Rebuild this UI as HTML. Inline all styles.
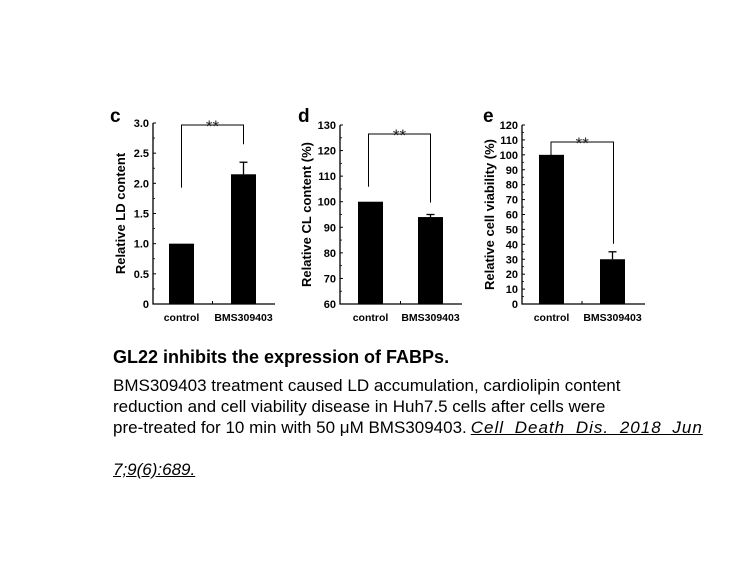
<!DOCTYPE html>
<html><head><meta charset="utf-8"><style>
body{margin:0;background:#fff;width:756px;height:567px;overflow:hidden;font-family:"Liberation Sans",Arial,sans-serif}
svg{position:absolute;left:0;top:0}
.cap{position:absolute;left:113px;font-size:17px;color:#000;white-space:nowrap;line-height:21px}
.cit{letter-spacing:1px;word-spacing:5px;margin-left:4px}
</style></head><body>
<svg id="fig" width="756" height="340" font-family="Liberation Sans, Arial, sans-serif"></svg>
<div class="cap" style="top:347px;font-weight:bold;font-size:18px">GL22 inhibits the expression of FABPs.</div>
<div class="cap" style="top:375px">BMS309403 treatment caused LD accumulation, cardiolipin content<br>reduction and cell viability disease in Huh7.5 cells after cells were<br>pre-treated for 10 min with 50 μM BMS309403.<u class="cit"><i>Cell Death Dis. 2018 Jun<br></i></u><br><u><i>7;9(6):689.</i></u></div>
<script>
const categories = ["control","BMS309403"];
const cValues = [1.0, 2.15];
const cErrors = [0, 0.2];
const cTicks = ["0","0.5","1.0","1.5","2.0","2.5","3.0"];
const dValues = [100, 94];
const dErrors = [0, 1];
const dTicks = ["60","70","80","90","100","110","120","130"];
const eValues = [100, 30];
const eErrors = [0, 5];
const eTicks = ["0","10","20","30","40","50","60","70","80","90","100","110","120"];

const NS="http://www.w3.org/2000/svg";
const svg=document.getElementById('fig');
function mk(tag,attrs,parent){const e=document.createElementNS(NS,tag);for(const k in attrs)e.setAttribute(k,attrs[k]);(parent||svg).appendChild(e);return e;}

function panel(o){
  const g=mk('g',{});
  
  
  const y=v=>o.y0-(v-o.min)/(o.max-o.min)*(o.y0-o.yTop);
  const ax=mk('path',{d:`M${o.ax},${o.yTop} V${o.y0} H${o.axEnd}`,stroke:'#000','stroke-width':1.3,fill:'none'},g);
  
  
  const n=o.ticks.length;
  for(let i=0;i<n;i++){
    const v=o.min+(o.max-o.min)*i/(n-1);
    mk('line',{x1:o.ax,x2:o.ax+3,y1:y(v),y2:y(v),stroke:'#000','stroke-width':1},g);
    if(i<n-1){const vm=v+(o.max-o.min)/(n-1)/2;mk('line',{x1:o.ax,x2:o.ax+2,y1:y(vm),y2:y(vm),stroke:'#000','stroke-width':0.8},g);}
    const t=mk('text',{x:o.ax-4,y:y(v)+4,'text-anchor':'end','font-size':11,'font-weight':'bold'},g);
    t.textContent=o.ticks[i];
    
    
  }
  mk('line',{x1:(o.bx[0]+o.bx[1]+o.bw)/2,x2:(o.bx[0]+o.bx[1]+o.bw)/2,y1:o.y0,y2:o.y0-3,stroke:'#000'},g);
  const tops=[];
  o.values.forEach((v,i)=>{
    const r=mk('rect',{x:o.bx[i],y:y(v),width:o.bw,height:o.y0-y(v),fill:'#000'},g);
    
    
    const cx=o.bx[i]+o.bw/2;
    if(o.errors[i]>0){
      mk('line',{x1:cx,x2:cx,y1:y(v),y2:y(v+o.errors[i]),stroke:'#000','stroke-width':1.3},g);
      mk('line',{x1:cx-4,x2:cx+4,y1:y(v+o.errors[i]),y2:y(v+o.errors[i]),stroke:'#000','stroke-width':1.3},g);
    }
    tops.push(y(v+o.errors[i]));
    const t=mk('text',{x:cx,y:o.y0+17,'text-anchor':'middle','font-size':10.5,'font-weight':'bold'},g);
    t.textContent=categories[i];
    
    
  });
  const lx=o.bx[0]+o.bw/2+o.bo[0], rx=o.bx[1]+o.bw/2+o.bo[1];
  const br=mk('path',{d:`M${lx},${tops[0]-o.gap[0]} V${o.by} H${rx} V${tops[1]-o.gap[1]}`,stroke:'#000','stroke-width':1,fill:'none'},g);
  
  
  const s=mk('text',{x:(lx+rx)/2,y:o.by+7,'text-anchor':'middle','font-size':17,fill:'#222'},g);
  s.textContent='**';
  
  
  const tt=mk('text',{transform:`translate(${o.titleX},${(o.yTop+o.y0)/2}) rotate(-90)`,'text-anchor':'middle','font-size':13,'font-weight':'bold'},g);
  tt.textContent=o.title;
  
  
  const L=mk('text',{x:o.letterX,y:122,'font-size':19,'font-weight':'bold'},g);
  L.textContent=o.letter;
  
  
}
panel({letter:'c',letterX:110,titleX:125,title:'Relative LD content',ax:153,axEnd:275,yTop:123,y0:304,min:0,max:3,ticks:cTicks,values:cValues,errors:cErrors,bx:[169,231],bw:25,by:125,gap:[56,18],bo:[0,0]});
panel({letter:'d',letterX:298,titleX:311,title:'Relative CL content (%)',ax:340,axEnd:462,yTop:125,y0:304,min:60,max:130,ticks:dTicks,values:dValues,errors:dErrors,bx:[358,418],bw:25,by:134,gap:[15,12],bo:[-2,0]});
panel({letter:'e',letterX:483,titleX:494,title:'Relative  cell viability (%)',ax:522,axEnd:645,yTop:125,y0:304,min:0,max:120,ticks:eTicks,values:eValues,errors:eErrors,bx:[539,600],bw:25,by:142,gap:[-6,8],bo:[-0.5,1]});
</script>
</body></html>
